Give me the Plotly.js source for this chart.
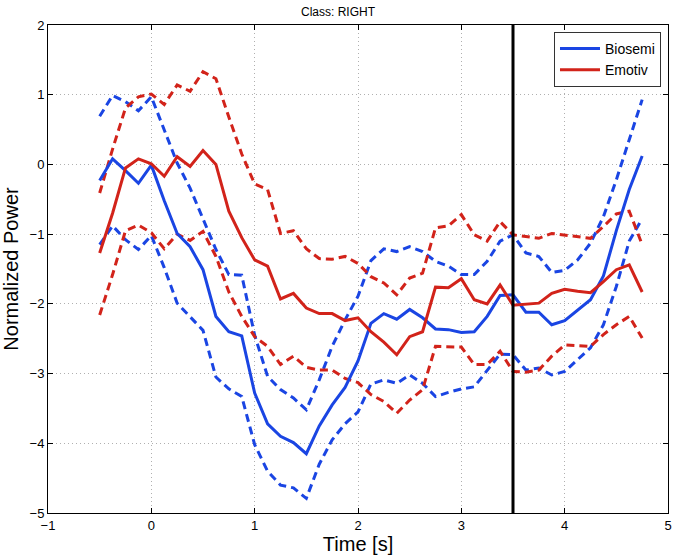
<!DOCTYPE html>
<html>
<head>
<meta charset="utf-8">
<script src="https://cdn.plot.ly/plotly-3.0.1.min.js"></script>
<style>html,body{margin:0;padding:0;background:#fff;}#chart{width:676px;height:560px;}</style>
</head>
<body>
<div id="chart"></div>
<script>
const time = [-0.5,-0.375,-0.25,-0.125,0,0.125,0.25,0.375,0.5,0.625,0.75,0.875,1,1.125,1.25,1.375,1.5,1.625,1.75,1.875,2,2.125,2.25,2.375,2.5,2.625,2.75,2.875,3,3.125,3.25,3.375,3.5,3.625,3.75,3.875,4,4.125,4.25,4.375,4.5,4.625,4.75];

const biosemiMean = [-0.23,0.08,-0.09,-0.27,-0.01,-0.52,-0.99,-1.18,-1.51,-2.18,-2.40,-2.46,-3.28,-3.72,-3.90,-3.99,-4.15,-3.75,-3.45,-3.20,-2.82,-2.28,-2.14,-2.22,-2.08,-2.20,-2.36,-2.37,-2.41,-2.40,-2.18,-1.88,-1.87,-2.12,-2.12,-2.30,-2.24,-2.09,-1.94,-1.60,-0.95,-0.36,0.12];
const biosemiUpper = [0.69,0.99,0.90,0.77,0.97,0.50,0.02,-0.34,-0.79,-1.22,-1.58,-1.59,-2.45,-3.04,-3.23,-3.35,-3.52,-3.09,-2.61,-2.23,-1.89,-1.38,-1.21,-1.25,-1.18,-1.25,-1.39,-1.46,-1.58,-1.58,-1.39,-1.10,-1.01,-1.27,-1.32,-1.55,-1.52,-1.37,-1.13,-0.75,-0.22,0.35,0.93];
const biosemiLower = [-1.15,-0.88,-1.08,-1.22,-1.02,-1.48,-1.99,-2.18,-2.38,-3.05,-3.22,-3.33,-4.02,-4.40,-4.60,-4.64,-4.79,-4.30,-3.95,-3.72,-3.55,-3.15,-3.09,-3.14,-3.02,-3.14,-3.33,-3.27,-3.22,-3.19,-2.95,-2.72,-2.73,-2.95,-2.92,-3.02,-2.97,-2.80,-2.63,-2.30,-1.75,-1.10,-0.78];

const emotivMean = [-1.27,-0.70,-0.05,0.08,0.01,-0.17,0.11,-0.03,0.20,0.00,-0.67,-1.05,-1.37,-1.46,-1.93,-1.85,-2.06,-2.14,-2.14,-2.24,-2.20,-2.40,-2.55,-2.73,-2.47,-2.40,-1.76,-1.77,-1.64,-1.94,-2.00,-1.73,-2.02,-2.00,-1.99,-1.85,-1.79,-1.82,-1.84,-1.68,-1.51,-1.44,-1.83];
const emotivUpper = [-0.41,0.22,0.81,0.97,1.01,0.86,1.14,1.05,1.33,1.23,0.68,0.15,-0.28,-0.36,-0.99,-0.95,-1.21,-1.35,-1.36,-1.32,-1.42,-1.61,-1.70,-1.87,-1.63,-1.56,-0.91,-0.88,-0.72,-1.01,-1.10,-0.82,-1.01,-1.03,-1.06,-0.99,-1.01,-1.04,-1.06,-0.89,-0.71,-0.67,-1.15];
const emotivLower = [-2.16,-1.58,-0.95,-0.87,-0.98,-1.21,-1.00,-1.09,-0.96,-1.32,-1.83,-2.18,-2.47,-2.61,-2.87,-2.75,-2.91,-2.95,-2.95,-3.07,-3.13,-3.30,-3.40,-3.57,-3.38,-3.23,-2.61,-2.61,-2.62,-2.87,-2.87,-2.68,-2.97,-2.98,-2.95,-2.75,-2.59,-2.60,-2.61,-2.44,-2.30,-2.18,-2.49];

const eventTime = 3.5;
const seriesNames = ["Biosemi", "Emotiv"];
const xTicks = [-1,0,1,2,3,4,5];
const yTicks = [-5,-4,-3,-2,-1,0,1,2];

const BLUE = "#1a45e3";
const RED = "#d2231a";
const DASH = "8px,5px";
const LW = 3;

const traces = [
  {x: time, y: biosemiUpper, mode: "lines", line: {color: BLUE, width: LW, dash: DASH}, showlegend: false, hoverinfo: "skip"},
  {x: time, y: biosemiLower, mode: "lines", line: {color: BLUE, width: LW, dash: DASH}, showlegend: false, hoverinfo: "skip"},
  {x: time, y: emotivUpper, mode: "lines", line: {color: RED, width: LW, dash: DASH}, showlegend: false, hoverinfo: "skip"},
  {x: time, y: emotivLower, mode: "lines", line: {color: RED, width: LW, dash: DASH}, showlegend: false, hoverinfo: "skip"},
  {x: time, y: biosemiMean, mode: "lines", name: seriesNames[0], line: {color: BLUE, width: LW}},
  {x: time, y: emotivMean, mode: "lines", name: seriesNames[1], line: {color: RED, width: LW}}
];

const axisCommon = {
  showline: true, linecolor: "#000", linewidth: 1, mirror: "ticks",
  ticks: "inside", ticklen: 5, tickcolor: "#000", tickwidth: 1,
  showgrid: true, gridcolor: "#b0b0b0", griddash: "1px,3px", gridwidth: 1,
  zeroline: false, tickfont: {size: 13, color: "#000"}
};

const layout = {
  width: 676, height: 560,
  margin: {l: 48, r: 8, t: 25, b: 47},
  paper_bgcolor: "#fff", plot_bgcolor: "#fff",
  font: {family: "Liberation Sans, Arial, Helvetica, sans-serif", color: "#000"},
  title: {text: "Class: RIGHT", font: {size: 12, color: "#000"}, x: 0.5, xanchor: "center", y: 0.979, yanchor: "middle", yref: "container"},
  xaxis: Object.assign({}, axisCommon, {range: [-1, 5], tickvals: xTicks, title: {text: "Time [s]", font: {size: 20}, standoff: 4}}),
  yaxis: Object.assign({}, axisCommon, {range: [-5, 2], tickvals: yTicks, title: {text: "Normalized Power", font: {size: 20}, standoff: 6}}),
  legend: {x: 0.9887, xanchor: "right", y: 0.9857, yanchor: "top", bgcolor: "#fff", bordercolor: "#333", borderwidth: 1, font: {size: 14}, tracegroupgap: 0, itemwidth: 40},
  shapes: [{type: "line", xref: "x", yref: "paper", x0: eventTime, x1: eventTime, y0: 0, y1: 1, line: {color: "#000", width: 3}}],
  showlegend: true
};

Plotly.newPlot("chart", traces, layout, {staticPlot: true, displayModeBar: false});
</script>
</body>
</html>
